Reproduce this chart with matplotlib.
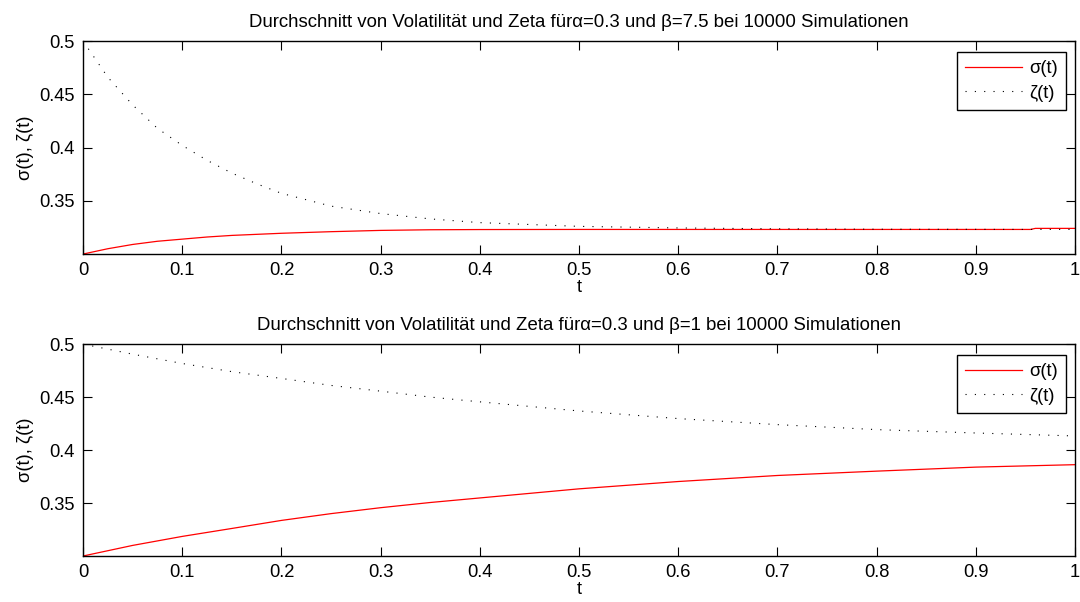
import matplotlib
matplotlib.use("Agg")
import matplotlib.pyplot as plt
import numpy as np

plt.rcParams['font.family'] = ['Liberation Sans', 'DejaVu Sans']

# beta = 7.5 (upper plot)
t_top = [0.0, 0.025, 0.05, 0.075, 0.1, 0.125, 0.15, 0.175, 0.2, 0.25, 0.3, 0.35, 0.4,
         0.5, 0.6, 0.7, 0.8, 0.9, 0.955, 0.96, 1.0]
sigma_top = [0.300, 0.305, 0.309, 0.312, 0.314, 0.316, 0.3175, 0.3185, 0.3195, 0.321, 0.3222, 0.3228, 0.323,
             0.3231, 0.3231, 0.3231, 0.3231, 0.3231, 0.3231, 0.3241, 0.3241]
zeta_top = [0.500, 0.466, 0.440, 0.418, 0.402, 0.388, 0.376, 0.366, 0.357, 0.345, 0.338, 0.333, 0.3295,
            0.3260, 0.3245, 0.3237, 0.3233, 0.3232, 0.3231, 0.3231, 0.3231]

# beta = 1 (lower plot)
t_bot = [0.0, 0.05, 0.1, 0.15, 0.2, 0.25, 0.3, 0.35, 0.4, 0.5, 0.6, 0.7, 0.8, 0.9, 1.0]
sigma_bot = [0.300, 0.310, 0.3185, 0.326, 0.3336, 0.340, 0.3456, 0.3505, 0.3548,
             0.3634, 0.3703, 0.376, 0.3801, 0.3839, 0.3862]
zeta_bot = [0.500, 0.4905, 0.4817, 0.474, 0.4676, 0.461, 0.4556, 0.450, 0.4455,
            0.4369, 0.4297, 0.424, 0.4193, 0.4161, 0.4133]

titles = ['Durchschnitt von Volatilität und Zeta für' + 'α=0.3 und β=7.5 bei 10000 Simulationen',
          'Durchschnitt von Volatilität und Zeta für' + 'α=0.3 und β=1 bei 10000 Simulationen']

x_ticks = [0, 0.1, 0.2, 0.3, 0.4, 0.5, 0.6, 0.7, 0.8, 0.9, 1]
x_labels = ['0', '0.1', '0.2', '0.3', '0.4', '0.5', '0.6', '0.7', '0.8', '0.9', '1']
y_ticks = [0.35, 0.4, 0.45, 0.5]
y_labels = ['0.35', '0.4', '0.45', '0.5']

fs = 13.2

fig = plt.figure(figsize=(10.8, 6.02), dpi=100)
ax1 = fig.add_axes([0.0769, 0.578, 0.9185, 0.3538])
ax2 = fig.add_axes([0.0769, 0.0764, 0.9185, 0.352])

data = [(ax1, t_top, sigma_top, zeta_top, titles[0]),
        (ax2, t_bot, sigma_bot, zeta_bot, titles[1])]

for ax, t, s, z, title in data:
    ax.plot(t, s, color='red', lw=0.9, label='σ(t)')
    ax.plot(t, z, color='black', lw=0.8, linestyle=(0, (1, 7.4)), label='ζ(t)')
    ax.set_xlim(0, 1)
    ax.set_ylim(0.3, 0.5)
    ax.set_xticks(x_ticks)
    ax.set_xticklabels(x_labels, fontsize=fs)
    ax.set_yticks(y_ticks)
    ax.set_yticklabels(y_labels, fontsize=fs)
    ax.tick_params(direction='in', length=6.5, width=0.8, top=True, right=True, pad=6)
    for sp in ax.spines.values():
        sp.set_linewidth(1.0)
    ax.set_title(title, fontsize=13.4, pad=10)
    ax.set_xlabel('t', fontsize=fs, labelpad=0)
    ax.set_ylabel('σ(t), ζ(t)', fontsize=fs, labelpad=4)
    leg = ax.legend(loc='upper right', bbox_to_anchor=(0.991, 0.948), borderaxespad=0,
                    fancybox=False, edgecolor='black', framealpha=1, fontsize=fs,
                    handlelength=3.1, handletextpad=0.4, borderpad=0.45, labelspacing=0.4)
    leg.get_frame().set_linewidth(1.0)

fig.savefig('out.png', dpi=100)
